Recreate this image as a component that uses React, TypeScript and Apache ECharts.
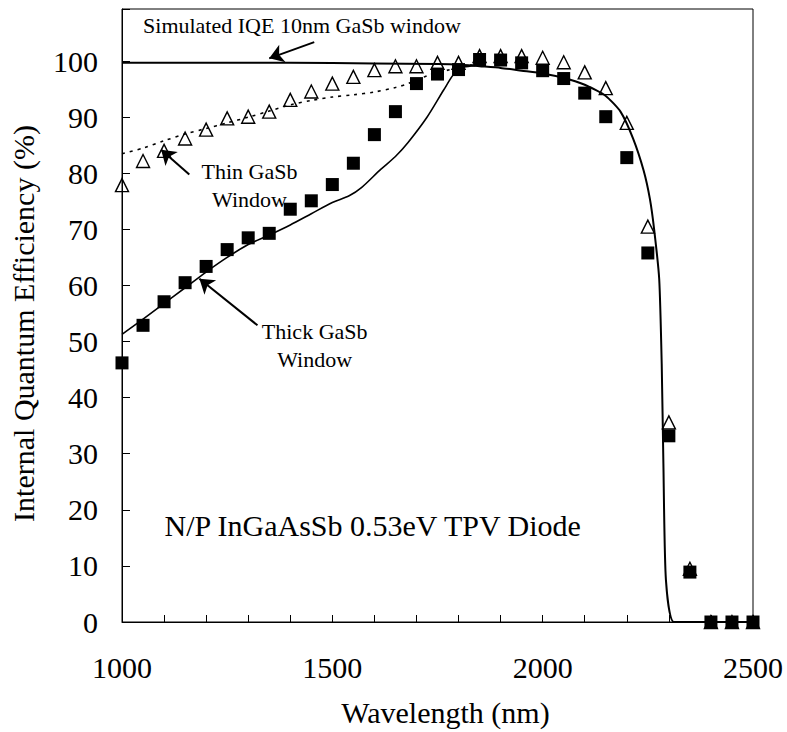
import React, { useEffect, useRef } from "react";
import * as echarts from "echarts";

const FONT = "Liberation Serif";

// Measured points (wavelength nm)
const wavelengths = [
  1000, 1050, 1100, 1150, 1200, 1250, 1300, 1350, 1400, 1450, 1500, 1550, 1600,
  1650, 1700, 1750, 1800, 1850, 1900, 1950, 2000, 2050, 2100, 2150, 2200, 2250,
  2300, 2350, 2400, 2450, 2500,
];
// Thin GaSb window (open triangles), IQE %
const thinIQE = [
  77.9, 82.2, 84.0, 86.2, 87.8, 89.8, 90.1, 91.0, 93.1, 94.6, 96.0, 97.2, 98.4,
  99.1, 99.1, 99.7, 99.7, 100.9, 100.9, 100.9, 100.6, 99.8, 98.0, 95.2, 89.0,
  70.5, 35.6, 9.5, 0, 0, 0,
];
// Thick GaSb window (filled squares), IQE %
const thickIQE = [
  46.2, 52.9, 57.1, 60.5, 63.4, 66.4, 68.5, 69.3, 73.6, 75.1, 78.0, 81.8, 86.9,
  91.0, 96.0, 97.7, 98.5, 100.3, 100.2, 99.7, 98.3, 96.9, 94.3, 90.1, 82.8, 65.8,
  33.2, 8.9, 0, 0, 0,
];

// Simulated IQE, 10nm GaSb window (solid line)
const simX = [
  1000, 1200, 1400, 1600, 1750, 1800, 1850, 1900, 1950, 2000, 2050, 2100, 2150,
  2185, 2215, 2240, 2255, 2265, 2277, 2283, 2287, 2293, 2312, 2400, 2500,
];
const simY = [
  99.7, 99.7, 99.7, 99.6, 99.5, 99.4, 99.1, 98.8, 98.3, 97.8, 97.0, 95.8, 93.8,
  91.0, 86.2, 80.5, 75.4, 70.0, 61.2, 46.0, 28.2, 7.5, 0, 0, 0,
];

// Thick window model (solid line, merges into simulated curve)
const thickFitX = [
  1000, 1050, 1100, 1150, 1200, 1250, 1300, 1350, 1400, 1450, 1500, 1540, 1570,
  1615, 1650, 1680, 1725, 1765, 1790, 1812, 1840,
];
const thickFitY = [
  51.3, 54.0, 56.8, 59.6, 62.4, 65.0, 67.3, 69.0, 70.8, 72.8, 74.8, 76.0, 77.5,
  80.7, 83.0, 85.5, 90.0, 94.9, 97.8, 98.9, 99.2,
];

// Thin window model (dotted line)
const thinFitX = [
  1000, 1050, 1100, 1150, 1200, 1250, 1300, 1350, 1400, 1450, 1500, 1550, 1600,
  1650, 1680, 1730, 1780, 1830, 1850,
];
const thinFitY = [
  83.5, 84.5, 85.8, 87.0, 88.0, 89.0, 90.0, 91.1, 92.2, 93.0, 93.6, 94.0, 94.5,
  95.3, 96.0, 97.5, 98.5, 99.3, 99.2,
];

const xTicks = [1000, 1500, 2000, 2500];

// Annotation arrows [from, to] in data coordinates
const arrowSim = [[1457, 103.4], [1350, 100.5]];
const arrowThin = [[1160, 79.8], [1093, 84.2]];
const arrowThick = [[1322, 52.9], [1184, 61.2]];

// Annotation texts anchored in data coordinates
const notes = [
  { text: "Simulated IQE 10nm GaSb window", at: [1050, 106.4], size: 22, align: "left" },
  { text: "Thin GaSb\nWindow", at: [1303, 77.9], size: 22, align: "center" },
  { text: "Thick GaSb\nWindow", at: [1458, 49.3], size: 22, align: "center" },
  { text: "N/P InGaAsSb 0.53eV TPV Diode", at: [1101, 17.25], size: 30, align: "left" },
];

const zip = (xs: number[], ys: number[]) => xs.map((x, i) => [x, ys[i]]);

const axisText = { fontFamily: FONT, fontSize: 30, color: "#000", fontWeight: "normal" as const };

export default function App() {
  const ref = useRef<HTMLDivElement>(null);
  useEffect(() => {
    if (!ref.current) return;
    const chart = echarts.init(ref.current, null, { renderer: "svg" });
    chart.setOption({
      animation: false,
      backgroundColor: "#fff",
      textStyle: { fontFamily: FONT, color: "#000" },
      grid: {
        left: 121,
        right: 34,
        top: 9,
        bottom: 106,
        show: true,
        borderColor: "#000",
        borderWidth: 1,
      },
      xAxis: {
        type: "value",
        min: 1000,
        max: 2500,
        interval: 100,
        name: "Wavelength (nm)",
        nameLocation: "middle",
        nameGap: 75,
        nameTextStyle: { ...axisText, padding: [0, 0, 0, 16] },
        axisLine: { show: true, lineStyle: { color: "#000", width: 1 } },
        axisTick: { show: true, inside: true, length: 7, lineStyle: { color: "#000" } },
        axisLabel: {
          ...axisText,
          margin: 30,
          formatter: (v: number) => (xTicks.includes(v) ? String(v) : ""),
        },
        splitLine: { show: false },
      },
      yAxis: {
        type: "value",
        min: 0,
        max: 109.3,
        interval: 10,
        name: "Internal Quantum Efficiency (%)",
        nameLocation: "middle",
        nameGap: 84,
        nameRotate: 90,
        nameTextStyle: { ...axisText, padding: [0, 16, 0, 0] },
        axisLine: { show: true, lineStyle: { color: "#000", width: 1 } },
        axisTick: { show: true, inside: true, length: 8, lineStyle: { color: "#000" } },
        axisLabel: {
          ...axisText,
          margin: 24,
          formatter: (v: number) => (v <= 100.001 ? String(Math.round(v)) : ""),
        },
        splitLine: { show: false },
      },
      series: [
        {
          name: "Simulated IQE 10nm GaSb window",
          type: "line",
          data: zip(simX, simY),
          showSymbol: false,
          smooth: 0.2,
          lineStyle: { color: "#000", width: 2 },
          z: 2,
        },
        {
          name: "Thick GaSb window model",
          type: "line",
          data: zip(thickFitX, thickFitY),
          showSymbol: false,
          smooth: 0.3,
          lineStyle: { color: "#000", width: 1.6 },
          z: 2,
        },
        {
          name: "Thin GaSb window model",
          type: "line",
          data: zip(thinFitX, thinFitY),
          showSymbol: false,
          smooth: 0.3,
          lineStyle: { color: "#000", width: 1.6, type: [3, 5] },
          z: 2,
        },
        {
          name: "Thin GaSb Window",
          type: "scatter",
          data: zip(wavelengths, thinIQE),
          symbol: "triangle",
          symbolSize: 13,
          itemStyle: { color: "rgba(255,255,255,0)", borderColor: "#000", borderWidth: 1.4, opacity: 1 },
          z: 3,
        },
        {
          name: "Thick GaSb Window",
          type: "scatter",
          data: zip(wavelengths, thickIQE),
          symbol: "rect",
          symbolSize: 13,
          itemStyle: { color: "#000", opacity: 1 },
          z: 4,
        },
        {
          name: "arrows",
          type: "lines",
          coordinateSystem: "cartesian2d",
          symbol: ["none", "arrow"],
          symbolSize: 14,
          lineStyle: { color: "#000", width: 2, opacity: 1 },
          data: [arrowSim, arrowThin, arrowThick].map((c) => ({ coords: c })),
          z: 5,
        },
      ],
    });

    const graphic = notes.map((n) => {
      const p = chart.convertToPixel({ gridIndex: 0 }, n.at) as number[];
      return {
        type: "text",
        x: p[0],
        y: p[1],
        z: 10,
        style: {
          text: n.text,
          fontFamily: FONT,
          fontSize: n.size,
          lineHeight: n.size === 22 ? 28 : n.size + 4,
          fill: "#000",
          align: n.align,
          verticalAlign: "middle",
        },
      };
    });
    chart.setOption({ graphic });

    return () => chart.dispose();
  }, []);
  return (
    <div
      ref={ref}
      style={{ position: "fixed", left: 0, top: 0, width: 787, height: 732, background: "#fff" }}
    />
  );
}
